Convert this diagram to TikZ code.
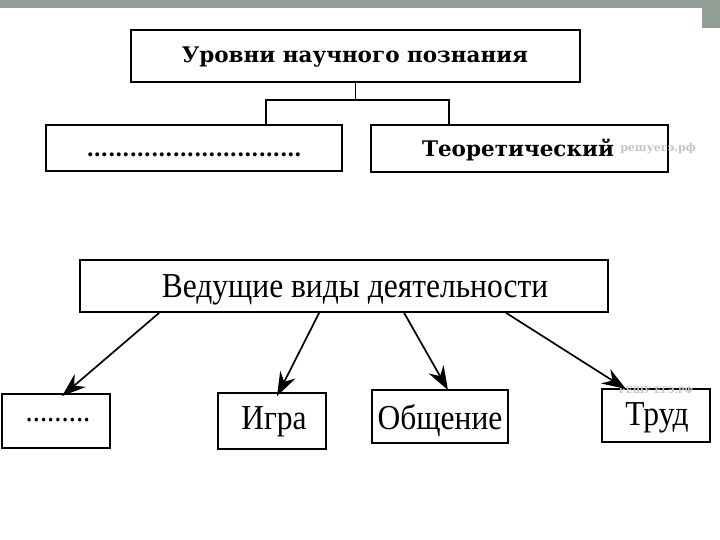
\documentclass[tikz,border=0pt]{standalone}
\usepackage{fontspec}
\setmainfont{Liberation Serif}
\newfontfamily\hdfont{DejaVu Serif}
\newfontfamily\tmfont[FakeStretch=0.9]{Liberation Serif}
\usetikzlibrary{arrows.meta,calc}
\definecolor{barg}{HTML}{919E96}
\definecolor{wmark}{HTML}{C4C4C4}
\tikzset{
  topbox/.style={draw=black,line width=2.2pt,inner sep=0pt},
  lowbox/.style={draw=black,line width=1.8pt,inner sep=0pt},
  hdtext/.style={font=\hdfont\bfseries\fontsize{21.5}{25}\selectfont,anchor=base,inner sep=0pt},
  tmtext/.style={font=\tmfont\fontsize{35}{40}\selectfont,anchor=base,inner sep=0pt},
  tree/.style={draw=black,line width=1.3pt},
  arr/.style={draw=black,line width=1.7pt,-{Stealth[length=24pt,width=17pt,inset=8pt]}},
  wm/.style={font=\hdfont\bfseries\fontsize{9}{10}\selectfont,text=wmark,anchor=base,inner sep=0pt}
}
\begin{document}
\begin{tikzpicture}[x=1pt,y=-1pt]
\useasboundingbox (0,0) rectangle (720,540);
\fill[white] (0,0) rectangle (720,540);
% top grey bar
\fill[barg] (0,0) rectangle (720,8);
\fill[barg] (702,8) rectangle (720,28);

% ---- upper diagram ----
\node[topbox,minimum width=449pt,minimum height=52pt] (u) at (355.5,56) {};
\node[hdtext] (ut) at (355,63) {Уровни научного познания};

\node[topbox,minimum width=296pt,minimum height=46pt] (emp) at (194,148) {};
\node[hdtext] (empt) at (194,157) {…………………………};

\node[topbox,minimum width=297pt,minimum height=47pt] (th) at (519.5,148.5) {};
\node[hdtext] (tht) at (518,157) {Теоретический};
\node[wm,font=\hdfont\bfseries\fontsize{11}{12}\selectfont] (wm1) at (658,152) {решуегэ.рф};

\coordinate (j) at (355.5,100);
\draw[tree] (u.south) -- (j);
\draw[tree] ([xshift=221pt]emp.north west) |- (j) -| ([xshift=79pt]th.north west);

% ---- lower diagram ----
\node[lowbox,minimum width=528pt,minimum height=52pt] (v) at (344,286) {};
\node[tmtext] (vt) at (355,297) {Ведущие виды деятельности};

\node[lowbox,minimum width=108pt,minimum height=54pt] (b1) at (56,421) {};
\node[tmtext,font=\tmfont\fontsize{32}{36}\selectfont] (b1t) at (58,421) {.........};

\node[lowbox,minimum width=108pt,minimum height=56pt] (b2) at (272,421) {};
\node[tmtext] (b2t) at (274,429) {Игра};

\node[lowbox,minimum width=136pt,minimum height=53pt] (b3) at (440,416.5) {};
\node[tmtext] (b3t) at (440,429) {Общение};

\node[lowbox,minimum width=108pt,minimum height=53pt] (b4) at (656,415.5) {};
\node[tmtext] (b4t) at (657,425) {Труд};
\node[wm] (wm2) at (656,393) {РЕШУ ЕГЭ.РФ};

\draw[arr] ([xshift=80pt]v.south west) -- ([xshift=6pt,yshift=-3pt]b1.north);
\draw[arr] ([xshift=240pt]v.south west) -- ([xshift=5pt,yshift=-4pt]b2.north);
\draw[arr] ([xshift=325pt]v.south west) -- ([xshift=8pt,yshift=-1pt]b3.north);
\draw[arr] ([xshift=427pt]v.south west) -- ([xshift=-30pt,yshift=-1pt]b4.north);
\end{tikzpicture}
\end{document}
